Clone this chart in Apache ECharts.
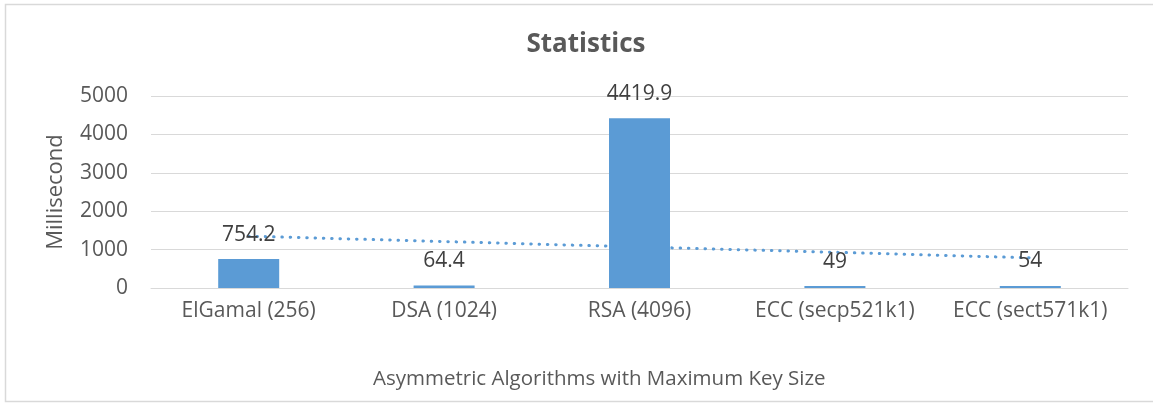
<!DOCTYPE html>
<html>
<head>
<meta charset="utf-8">
<script src="https://cdn.jsdelivr.net/npm/echarts@6/dist/echarts.min.js"></script>
<style>
html,body{margin:0;padding:0;background:#fff;}
#c{width:1153px;height:406px;}
</style>
</head>
<body>
<div id="c"></div>
<script>
const categories = ["ElGamal (256)", "DSA (1024)", "RSA (4096)", "ECC (secp521k1)", "ECC (sect571k1)"];
const timesMs = [754.2, 64.4, 4419.9, 49, 54];
const trendValues = [1350, 1210, 1068, 930, 785];
const yTicks = { min: 0, max: 5000, interval: 1000 };
const titleText = "Statistics";
const yName = "Millisecond";
const xName = "Asymmetric Algorithms with Maximum Key Size";

const FONT = "Open Sans";
const chart = echarts.init(document.getElementById('c'), null, { renderer: 'canvas' });
chart.setOption({
  animation: false,
  backgroundColor: '#ffffff',
  title: {
    text: titleText,
    left: 581, top: 27, textAlign: 'center',
    textStyle: { fontFamily: FONT, fontSize: 26, fontWeight: 'bold', color: '#595959' }
  },
  grid: { left: 151, right: 25, top: 96, bottom: 118, containLabel: false },
  xAxis: {
    type: 'category',
    data: categories,
    axisLine: { show: true, lineStyle: { color: '#d9d9d9', width: 1 } },
    axisTick: { show: false },
    axisLabel: { fontFamily: FONT, fontSize: 21, color: '#595959', margin: 13, interval: 0 }
  },
  yAxis: {
    type: 'value',
    min: yTicks.min, max: yTicks.max, interval: yTicks.interval,
    name: yName,
    nameLocation: 'middle',
    nameRotate: 90,
    nameGap: 84,
    nameTextStyle: { fontFamily: FONT, fontSize: 22, color: '#595959' },
    axisLine: { show: false },
    axisTick: { show: false },
    axisLabel: { fontFamily: FONT, fontSize: 21, color: '#595959', margin: 23, formatter: v => String(v) },
    splitLine: { lineStyle: { color: '#d9d9d9', width: 1 } }
  },
  series: [
    {
      type: 'line',
      data: trendValues,
      symbol: 'none',
      silent: true,
      z: 1,
      lineStyle: { color: '#5b9bd5', width: 3, type: [0.5, 7.8], cap: 'round' }
    },
    {
      type: 'bar',
      data: timesMs,
      barWidth: 61,
      z: 3,
      itemStyle: { color: '#5b9bd5' },
      label: {
        show: true, position: 'top', distance: 14,
        fontFamily: FONT, fontSize: 21, color: '#404040'
      }
    }
  ],
  graphic: [
    {
      type: 'rect', silent: true, z: -10,
      shape: { x: 5.5, y: 4.5, width: 1160, height: 397 },
      style: { fill: 'none', stroke: '#d9d9d9', lineWidth: 1.5 }
    },
    {
      type: 'text', left: 373, top: 369,
      style: { text: xName, fontFamily: FONT, fontSize: 20.5, fill: '#595959' }
    }
  ]
});
</script>
</body>
</html>
